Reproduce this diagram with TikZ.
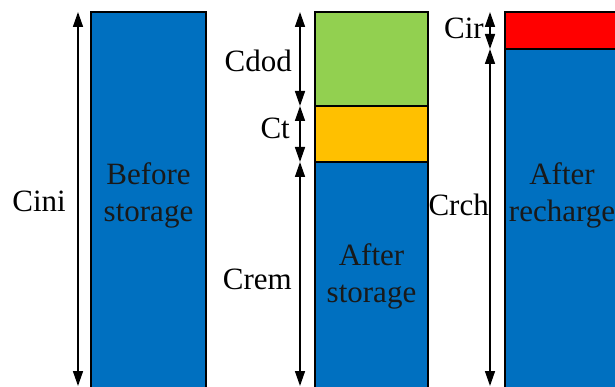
\documentclass[tikz,border=0pt]{standalone}
\usepackage{fontspec}
\setmainfont{Liberation Serif}
\usetikzlibrary{arrows.meta}
\definecolor{capblue}{HTML}{0070C0}
\definecolor{capgreen}{HTML}{92D050}
\definecolor{capyellow}{HTML}{FFC000}
\definecolor{capred}{HTML}{FF0000}
\tikzset{
  bar/.style={draw=black, line width=2pt},
  dim/.style={line width=1.5pt, {Triangle[length=15pt,width=10pt]}-{Triangle[length=15pt,width=10pt]}},
  lbl/.style={font=\fontsize{31}{37}\selectfont, inner sep=0pt, anchor=base east},
  intext/.style={font=\fontsize{31}{37}\selectfont, inner sep=0pt, anchor=base, text=black!90}
}
\begin{document}
\begin{tikzpicture}[x=1pt, y=-1pt]
  \useasboundingbox (0,0) rectangle (615,387);
  \clip (0,0) rectangle (615,387);
  \fill[white] (0,0) rectangle (615,387);

  % capacity bars
  \draw[bar, fill=capblue] (91,12) rectangle (206,400);
  \draw[bar, fill=capgreen] (315,12) rectangle (428,106);
  \draw[bar, fill=capyellow] (315,106) rectangle (428,162);
  \draw[bar, fill=capblue] (315,162) rectangle (428,400);
  \draw[bar, fill=capred] (505,12) rectangle (625,49);
  \draw[bar, fill=capblue] (505,49) rectangle (625,400);

  % texts inside the bars
  \node[intext] (b1a) at (148.5,185) {Before};
  \node[intext] (b1b) at (148.5,222) {storage};
  \node[intext] (b2a) at (371.5,265) {After};
  \node[intext] (b2b) at (371.5,302) {storage};
  \node[intext] (b3a) at (562,185) {After};
  \node[intext] (b3b) at (562,222) {recharge};

  % end points of the dimension arrows
  \coordinate (iniT) at (78,12);
  \coordinate (iniB) at (78,386);
  \coordinate (s0) at (300,12);
  \coordinate (s1) at (300,106);
  \coordinate (s2) at (300,162);
  \coordinate (s3) at (300,386);
  \coordinate (r0) at (490,12);
  \coordinate (r1) at (490,49);
  \coordinate (r2) at (490,386);

  \draw[dim] (iniT) -- (iniB);
  \draw[dim] (s0) -- (s1);
  \draw[dim] (s1) -- (s2);
  \draw[dim] (s2) -- (s3);
  \draw[dim] (r0) -- (r1);
  \draw[dim] (r1) -- (r2);

  % dimension labels
  \node[lbl] (cini) at (66,212) {Cini};
  \node[lbl] (cdod) at (292,72) {Cdod};
  \node[lbl] (ct) at (290,139) {Ct};
  \node[lbl] (crem) at (292,289) {Crem};
  \node[lbl] (cir) at (484,39) {Cir};
  \node[lbl] (crch) at (489,215) {Crch};
\end{tikzpicture}
\end{document}
